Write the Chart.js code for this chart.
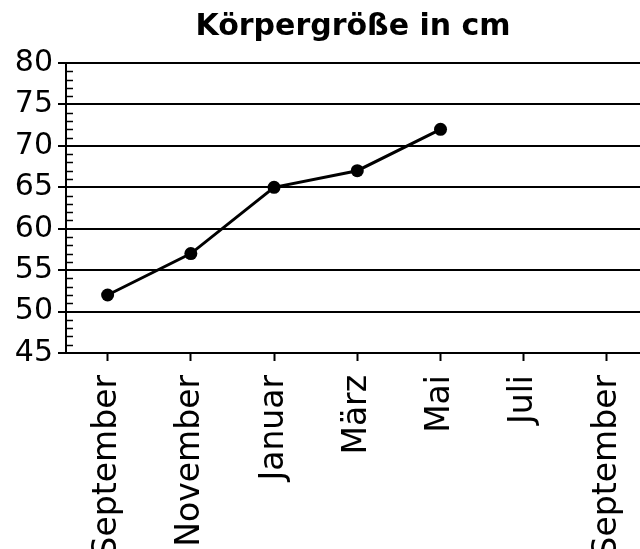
<!DOCTYPE html>
<html lang="de">
<head>
<meta charset="utf-8">
<title>Körpergröße in cm</title>
<script src="https://cdn.jsdelivr.net/npm/chart.js@4/dist/chart.umd.min.js"></script>
<style>
  html, body { margin: 0; padding: 0; background: #fff; overflow: hidden; }
  canvas { display: block; }
</style>
</head>
<body>
<canvas id="groesseChart" width="640" height="549"></canvas>
<script>
// Data
const months = ['September', 'November', 'Januar', 'März', 'Mai', 'Juli', 'September'];
const heights = [52, 57, 65, 67, 72];
const yTicks = [45, 50, 55, 60, 65, 70, 75, 80];

const FONT = '"DejaVu Sans", Verdana, sans-serif';

// Points on the month index
const points = heights.map((h, i) => ({ x: i, y: h }));

// Small ticks every 1 cm on the inside of the y axis
const minorTicks = {
    id: 'minorTicks',
    afterDraw(chart) {
        const y = chart.scales.y;
        const ctx = chart.ctx;
        ctx.save();
        ctx.strokeStyle = '#000';
        ctx.lineWidth = 1.5;
        for (let v = y.min; v <= y.max; v++) {
            if (v % 5 === 0) continue;
            const py = Math.round(y.getPixelForValue(v)) + 0.5;
            ctx.beginPath();
            ctx.moveTo(y.right, py);
            ctx.lineTo(y.right + 7, py);
            ctx.stroke();
        }
        ctx.restore();
    }
};

// No extra padding from the rotated labels
function noPadding(axis) {
    axis.paddingLeft = 0;
    axis.paddingRight = 0;
    axis.paddingTop = 0;
    axis.paddingBottom = 0;
}

const ctx = document.getElementById('groesseChart').getContext('2d');
new Chart(ctx, {
    type: 'line',
    data: {
        datasets: [{
            data: points,
            borderColor: '#000',
            backgroundColor: '#000',
            borderWidth: 3,
            pointRadius: 6.5,
            pointHoverRadius: 6.5,
            pointBackgroundColor: '#000',
            pointBorderWidth: 0,
            tension: 0
        }]
    },
    options: {
        responsive: false,
        animation: false,
        events: [],
        layout: { padding: 0, autoPadding: false },
        plugins: {
            legend: { display: false },
            tooltip: { enabled: false },
            title: {
                display: true,
                fullSize: false,
                text: 'Körpergröße in cm',
                color: '#000',
                font: { family: FONT, size: 30, weight: 'bold' },
                padding: { top: 9, bottom: 18 }
            }
        },
        scales: {
            x: {
                type: 'linear',
                min: -0.5,
                max: 6.397,
                afterBuildTicks: axis => {
                    axis.ticks = months.map((m, i) => ({ value: i }));
                },
                afterFit: axis => {
                    axis.height = 196;
                    noPadding(axis);
                },
                border: { display: true, color: '#000', width: 2 },
                grid: {
                    drawOnChartArea: false,
                    drawTicks: true,
                    tickLength: 8,
                    tickColor: '#000',
                    tickWidth: 2
                },
                ticks: {
                    autoSkip: false,
                    minRotation: 90,
                    maxRotation: 90,
                    padding: 14,
                    color: '#000',
                    font: { family: FONT, size: 33 },
                    callback: v => months[v]
                }
            },
            y: {
                min: 45,
                max: 80,
                afterBuildTicks: axis => {
                    axis.ticks = yTicks.map(v => ({ value: v }));
                },
                afterFit: axis => {
                    axis.width = 66;
                    noPadding(axis);
                },
                border: { display: true, color: '#000', width: 2 },
                grid: {
                    color: '#000',
                    lineWidth: 2,
                    drawTicks: true,
                    tickLength: 8
                },
                ticks: {
                    autoSkip: false,
                    padding: 5,
                    color: '#000',
                    font: { family: FONT, size: 30 }
                }
            }
        }
    },
    plugins: [minorTicks]
});
</script>
</body>
</html>
